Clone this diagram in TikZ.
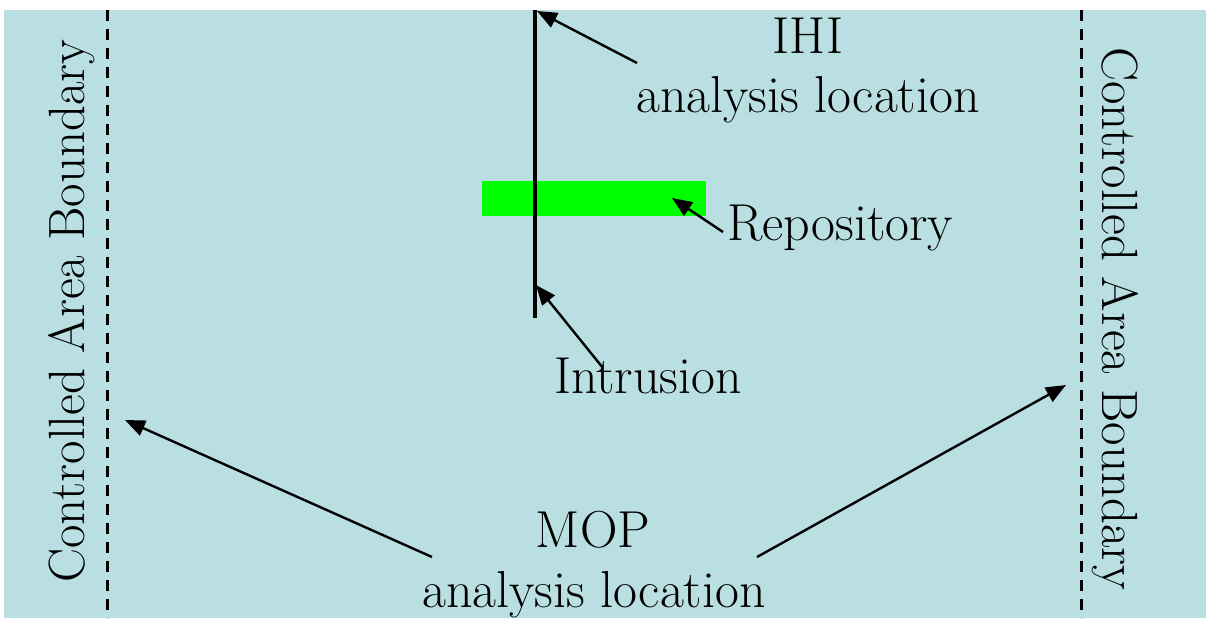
\documentclass[tikz,border=0pt]{standalone}
\usepackage{fontspec}
\usetikzlibrary{arrows.meta}
\definecolor{bgblue}{RGB}{186,223,226}
\definecolor{repogreen}{RGB}{0,255,0}
\tikzset{
  lbl/.style={anchor=base,inner sep=0pt,font=\fontsize{52}{60}\selectfont},
  sidelbl/.style={inner sep=0pt,font=\fontsize{51}{60}\selectfont},
  boundary/.style={line width=3pt,dash pattern=on 11pt off 8pt},
  ptr/.style={line width=2.4pt,-{Triangle[length=20pt,width=16pt]}},
}
\begin{document}
\begin{tikzpicture}[x=1pt,y=-1pt]
\useasboundingbox (0,0) rectangle (1206,618);
\fill[white] (0,0) rectangle (1206,618);
\fill[bgblue] (4,10) rectangle (1206,618);
% boundaries
\coordinate (lbTop) at (107,10);
\coordinate (lbBot) at (107,618);
\coordinate (rbTop) at (1081,10);
\coordinate (rbBot) at (1081,618);
\draw[boundary] (lbTop) -- (lbBot);
\draw[boundary] (rbTop) -- (rbBot);
\node[sidelbl,rotate=90] (leftlbl) at (72,311) {Controlled Area Boundary};
\node[sidelbl,rotate=-90] (rightlbl) at (1115,319) {Controlled Area Boundary};
% repository
\fill[repogreen] (482,181) rectangle (706,216);
\coordinate (repo) at (672,198);
% intrusion
\coordinate (intTop) at (535,10);
\coordinate (intBot) at (535,318);
\draw[line width=3.2pt] (intTop) -- (intBot);
\coordinate (ihiTip) at (537,11);
\coordinate (intTip) at (536,285);
% labels
\node[lbl] (ihi) at (808,53) {IHI};
\node[lbl] (ihiloc) at (808,112) {analysis location};
\node[lbl] (repolbl) at (840,240) {Repository};
\node[lbl] (intlbl) at (648,393) {Intrusion};
\node[lbl] (mop) at (593,547) {MOP};
\node[lbl] (moploc) at (594,607) {analysis location};
% arrow tails
\coordinate (ihiTail) at (637,63);
\coordinate (repoTail) at (723,232);
\coordinate (intTail) at (603,368);
\coordinate (mopLTail) at (432,557);
\coordinate (mopRTail) at (757,557);
\coordinate (mopLTip) at (125,420);
\coordinate (mopRTip) at (1066,385);
\draw[ptr] (ihiTail) -- (ihiTip);
\draw[ptr] (repoTail) -- (repo);
\draw[ptr] (intTail) -- (intTip);
\draw[ptr] (mopLTail) -- (mopLTip);
\draw[ptr] (mopRTail) -- (mopRTip);
\end{tikzpicture}
\end{document}
